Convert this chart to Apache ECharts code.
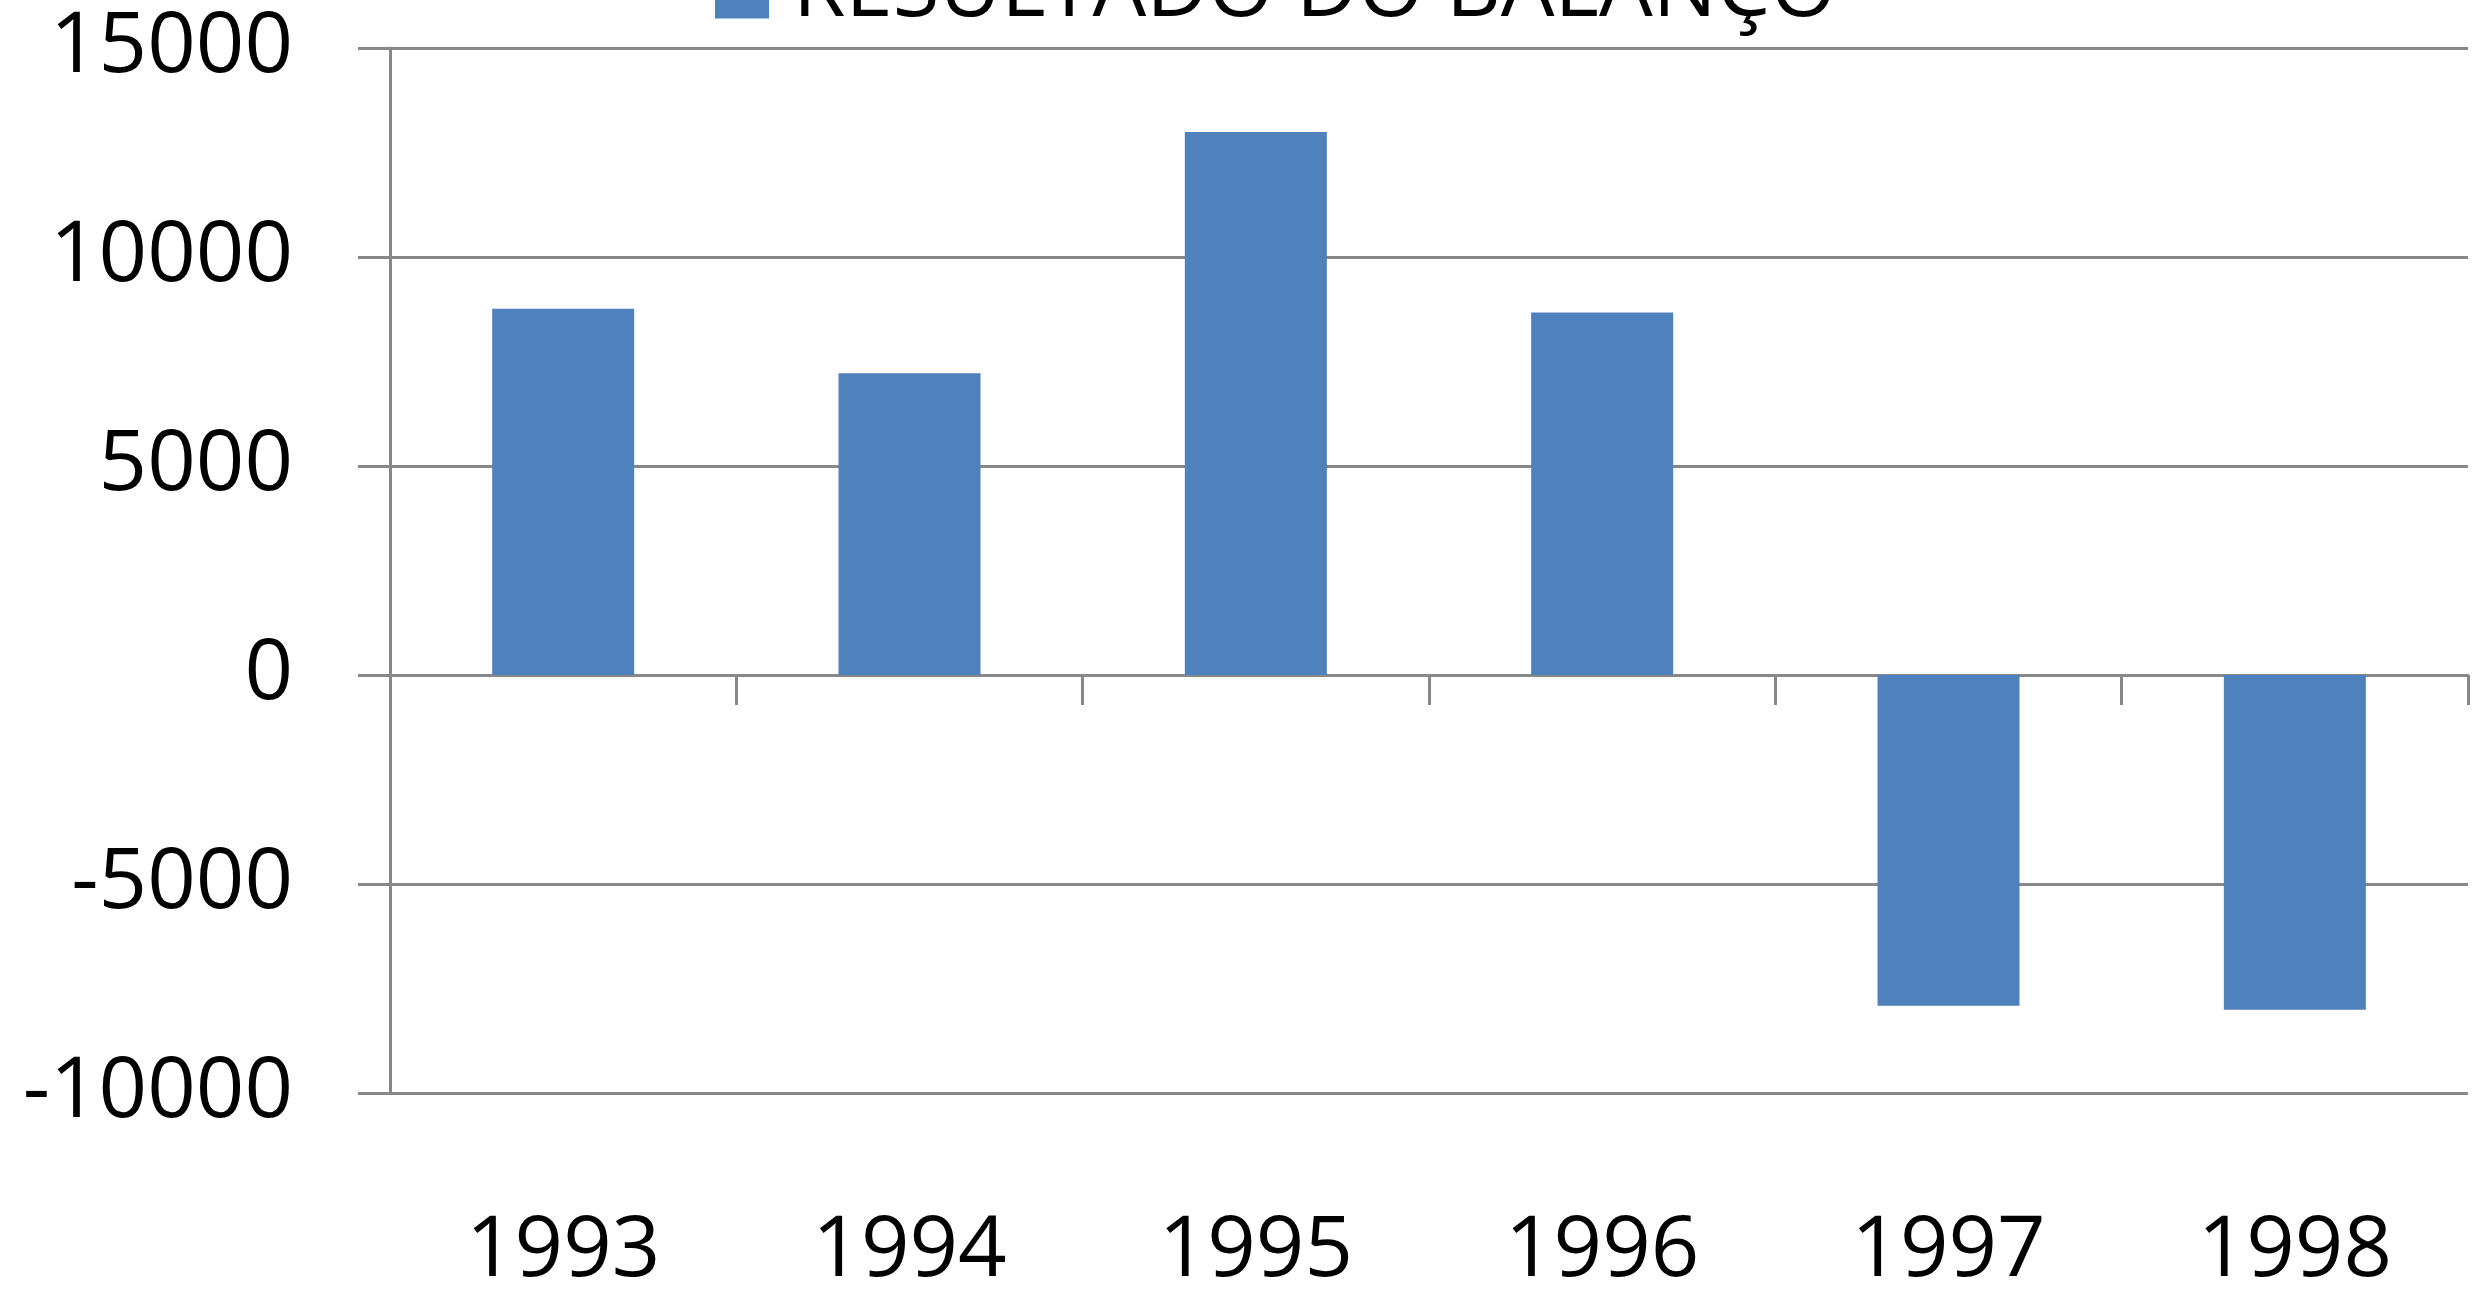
<!DOCTYPE html>
<html>
<head>
<meta charset="utf-8">
<script src="https://cdn.jsdelivr.net/npm/echarts@6/dist/echarts.min.js"></script>
<style>
html,body{margin:0;padding:0;background:#fff;}
#chart{width:2484px;height:1294px;}
</style>
</head>
<body>
<div id="chart"></div>
<script>
const categories = ['1993','1994','1995','1996','1997','1998'];
const seriesName = 'RESULTADO DO BALANÇO';
const values = [8760, 7220, 12990, 8670, -7910, -8010];
const yTicks = { min: -10000, max: 15000, interval: 5000 };

const gray = '#888888';
const font = '"Open Sans", "Liberation Sans", sans-serif';

const chart = echarts.init(document.getElementById('chart'));
chart.setOption({
  animation: false,
  backgroundColor: '#ffffff',
  legend: {
    data: [seriesName],
    left: 710,
    top: -56,
    itemWidth: 54,
    itemHeight: 54,
    itemGap: 20,
    icon: 'rect',
    textStyle: { fontSize: 85, color: '#000', fontFamily: font, lineHeight: 80, padding: [0, 0, 0, 19] }
  },
  grid: { left: 390, right: 16, top: 48, bottom: 191, containLabel: false },
  xAxis: [
    {
      type: 'category',
      data: categories,
      position: 'bottom',
      axisLine: { onZero: true, lineStyle: { color: gray, width: 3 } },
      axisTick: { show: true, length: 30, lineStyle: { color: gray, width: 3 } },
      axisLabel: { show: false },
      splitLine: { show: false }
    },
    {
      type: 'category',
      data: categories,
      position: 'bottom',
      axisLine: { show: false, onZero: false },
      axisTick: { show: false },
      axisLabel: { show: true, margin: 116, fontSize: 85, color: '#000', fontFamily: font },
      splitLine: { show: false }
    }
  ],
  yAxis: {
    type: 'value',
    min: yTicks.min,
    max: yTicks.max,
    interval: yTicks.interval,
    axisLine: { show: true, lineStyle: { color: gray, width: 3 } },
    axisTick: { show: true, length: 32, lineStyle: { color: gray, width: 3 } },
    axisLabel: { margin: 97, fontSize: 85, color: '#000', fontFamily: font, formatter: function (v) { return String(v); } },
    splitLine: { show: true, lineStyle: { color: gray, width: 3 } }
  },
  series: [{
    name: seriesName,
    type: 'bar',
    xAxisIndex: 0,
    data: values,
    barWidth: '41%',
    itemStyle: { color: '#4F81BD' }
  }]
});
</script>
</body>
</html>
